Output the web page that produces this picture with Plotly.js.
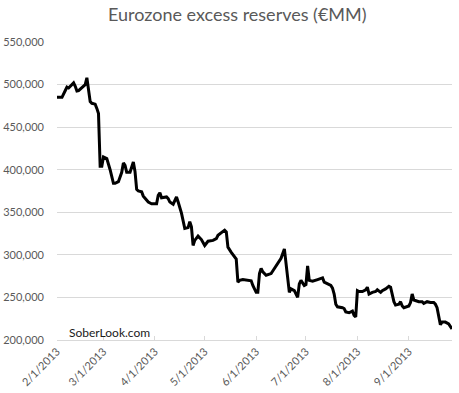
<!DOCTYPE html>
<html>
<head>
<meta charset="utf-8">
<script src="https://cdn.plot.ly/plotly-3.0.1.min.js"></script>
<style>html,body{margin:0;padding:0;background:#fff;}#chart{width:459px;height:393px;}</style>
</head>
<body>
<div id="chart"></div>
<script>
const dates = [
"2013-02-01","2013-02-04","2013-02-06","2013-02-07","2013-02-08","2013-02-11","2013-02-12","2013-02-13","2013-02-14","2013-02-15",
"2013-02-18","2013-02-19","2013-02-20","2013-02-21","2013-02-22","2013-02-24","2013-02-25","2013-02-26","2013-02-27","2013-02-28",
"2013-03-01","2013-03-03","2013-03-05","2013-03-06","2013-03-07","2013-03-08","2013-03-10","2013-03-12","2013-03-13","2013-03-14",
"2013-03-15","2013-03-17","2013-03-19","2013-03-20","2013-03-21","2013-03-22","2013-03-24","2013-03-25","2013-03-26","2013-03-28",
"2013-03-30","2013-04-02","2013-04-03","2013-04-04","2013-04-05","2013-04-08","2013-04-09","2013-04-10","2013-04-12","2013-04-14",
"2013-04-15","2013-04-17","2013-04-19","2013-04-21","2013-04-22","2013-04-23","2013-04-24","2013-04-25","2013-04-27","2013-04-29",
"2013-05-01","2013-05-03","2013-05-06","2013-05-08","2013-05-09","2013-05-11","2013-05-13","2013-05-14","2013-05-15","2013-05-17",
"2013-05-18","2013-05-20","2013-05-21","2013-05-22","2013-05-24","2013-05-27","2013-05-29","2013-05-30","2013-06-01","2013-06-02",
"2013-06-03","2013-06-04","2013-06-05","2013-06-07","2013-06-10","2013-06-11","2013-06-12","2013-06-13","2013-06-15","2013-06-16",
"2013-06-18","2013-06-19","2013-06-20","2013-06-21","2013-06-22","2013-06-24","2013-06-26","2013-06-27","2013-06-28","2013-06-30",
"2013-07-01","2013-07-02","2013-07-03","2013-07-05","2013-07-08","2013-07-10","2013-07-11","2013-07-12","2013-07-14","2013-07-16",
"2013-07-17","2013-07-18","2013-07-19","2013-07-20","2013-07-23","2013-07-24","2013-07-25","2013-07-27","2013-07-29","2013-07-30",
"2013-07-31","2013-08-01","2013-08-02","2013-08-04","2013-08-06","2013-08-07","2013-08-08","2013-08-10","2013-08-12","2013-08-13",
"2013-08-15","2013-08-16","2013-08-18","2013-08-20","2013-08-21","2013-08-22","2013-08-23","2013-08-24","2013-08-26","2013-08-27",
"2013-08-28","2013-08-29","2013-08-31","2013-09-01","2013-09-02","2013-09-03","2013-09-04","2013-09-06","2013-09-07","2013-09-09",
"2013-09-10","2013-09-12","2013-09-14","2013-09-16","2013-09-17","2013-09-18","2013-09-19","2013-09-20","2013-09-21","2013-09-23",
"2013-09-25","2013-09-26","2013-09-27"
];
const reservesK = [
485,485,493,497,496,502,498,492.5,493,495,
500,508,493,480,478,477,472,466,404,404,
415,413,400,390,384,384,386,397,408,405,
397,397,409,398,377,375,374,369,367,362,
360,360,370,373,367,368,366,362,359.5,368,
362,349,331,332,339,333,311,317,322,318,
311,316,317,319,323,326,329,327,309,303,
300,295,268,270,271,270,269.5,264,256,256,
278,284,280,276,278,281,284,287,293,296,
307,290,268,256,260,258,250,266,270,264,
265,287,270,269,271,272,273,268,266,264,
261,254,242,239,238,237,233,232,234,229,
227,258,257,257,259,262,254,256,257,259,
256,258,260,263,262,253,245,241,242,245,
240,238,239,240,244,254,247,246,245,245,
243,245,244,244,242,238,227,218,221,221,
219,216,213
];
const reserves = reservesK.map(v => v * 1000);
const tickDates = ["2013-02-01","2013-03-01","2013-04-01","2013-05-01","2013-06-01","2013-07-01","2013-08-01","2013-09-01"];
const tickLabels = ["2/1/2013","3/1/2013","4/1/2013","5/1/2013","6/1/2013","7/1/2013","8/1/2013","9/1/2013"];
const yTicks = [200000,250000,300000,350000,400000,450000,500000,550000];

const font = "Lato, 'Open Sans', sans-serif";
const trace = {
  x: dates, y: reserves, type: "scatter", mode: "lines",
  line: {color: "#000000", width: 3}, hoverinfo: "skip"
};
const layout = {
  width: 459, height: 393,
  margin: {l: 57, r: 7, t: 42, b: 53},
  paper_bgcolor: "#ffffff", plot_bgcolor: "#ffffff",
  showlegend: false,
  title: {text: "Eurozone excess reserves (€MM)", x: 0.517, xanchor: "center", y: 0.962, yanchor: "middle",
          font: {family: font, size: 18, color: "#595959"}},
  xaxis: {
    type: "date", range: ["2013-02-01", "2013-09-27"],
    tickvals: tickDates, ticktext: tickLabels, tickangle: -45,
    tickfont: {family: font, size: 11, color: "#595959"},
    showgrid: false, zeroline: false,
    showline: true, linecolor: "#d9d9d9", linewidth: 1,
    ticks: "inside", ticklen: 4, tickcolor: "#d9d9d9"
  },
  yaxis: {
    range: [200000, 550000], tickvals: yTicks, tickformat: ",",
    tickfont: {family: font, size: 11, color: "#595959"},
    showgrid: true, gridcolor: "#d9d9d9", gridwidth: 1,
    zeroline: false, showline: false, ticks: "", ticklabelstandoff: 12
  },
  annotations: [{
    text: "SoberLook.com", xref: "paper", yref: "paper", x: 0.025, y: 0.024,
    xanchor: "left", yanchor: "middle", showarrow: false,
    font: {family: font, size: 12, color: "#1a1a1a"}
  }]
};
Plotly.newPlot("chart", [trace], layout, {displayModeBar: false, staticPlot: true});
</script>
</body>
</html>
